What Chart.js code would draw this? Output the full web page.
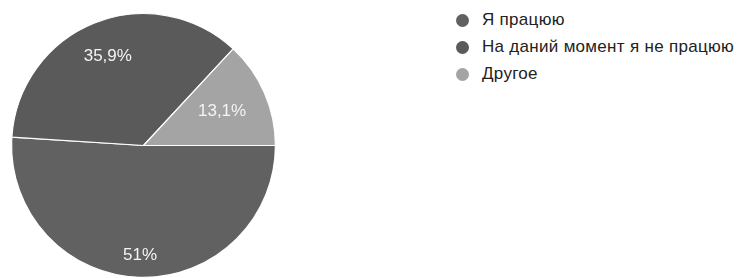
<!DOCTYPE html>
<html>
<head>
<meta charset="utf-8">
<script src="https://cdn.jsdelivr.net/npm/chart.js@4.4.1/dist/chart.umd.min.js"></script>
<style>
  html, body { margin: 0; padding: 0; background: #fff; }
  #wrap { position: relative; width: 737px; height: 278px; overflow: hidden; }
  #pie { position: absolute; left: 0; top: 0; }
  #legende { position: absolute; left: 456px; top: 13px; font-family: "Liberation Sans", Arial, sans-serif; font-size: 17px; letter-spacing: 0.3px; color: #222; }
  .item { display: flex; align-items: center; height: 14px; margin-bottom: 13px; white-space: nowrap; }
  .pastille { display: inline-block; width: 13px; height: 13px; border-radius: 50%; margin-right: 13px; flex: none; }
</style>
</head>
<body>
<div id="wrap">
  <canvas id="pie" width="290" height="278"></canvas>
  <div id="legende"></div>
</div>
<script>
// donnees
const categories = ["Я працюю", "На даний момент я не працюю", "Другое"];
const valeurs = [51, 35.9, 13.1];
const etiquettes = ["51%", "35,9%", "13,1%"];
const couleurs = ["#616161", "#5a5a5a", "#a4a4a4"];

// etiquettes sur les parts
const pluginEtiquettes = {
    id: "etiquettes",
    afterDatasetsDraw(chart, args, opts) {
        const ctx = chart.ctx;
        const meta = chart.getDatasetMeta(0);
        ctx.save();
        ctx.font = "17px 'Liberation Sans', Arial, sans-serif";
        ctx.fillStyle = "#f4f4f4";
        ctx.textAlign = "center";
        ctx.textBaseline = "middle";
        meta.data.forEach((arc, i) => {
            const p = arc.getProps(["x", "y", "startAngle", "endAngle", "outerRadius"], true);
            const milieu = (p.startAngle + p.endAngle) / 2;
            const r = p.outerRadius * opts.distance[i];
            ctx.fillText(etiquettes[i], p.x + Math.cos(milieu) * r, p.y + Math.sin(milieu) * r);
        });
        ctx.restore();
    }
};

const ctx = document.getElementById("pie");
const chart = new Chart(ctx, {
    type: "pie",
    data: {
        labels: categories,
        datasets: [{
            data: valeurs,
            backgroundColor: couleurs,
            borderColor: "#ffffff",
            borderWidth: 1.2
        }]
    },
    options: {
        responsive: false,
        animation: false,
        rotation: 90,
        layout: { padding: { left: 10, right: 13, top: 13, bottom: 0 } },
        plugins: {
            legend: { display: false },
            tooltip: { enabled: false },
            etiquettes: { distance: [0.83, 0.73, 0.65] }
        }
    },
    plugins: [pluginEtiquettes]
});

// legende html a partir du graphe
const items = chart.options.plugins.legend.labels.generateLabels(chart);
let html = "";
items.forEach((it) => {
    html += "<div class='item'><span class='pastille' style='background:" + it.fillStyle + "'></span>" + it.text + "</div>";
});
document.getElementById("legende").innerHTML = html;
</script>
</body>
</html>
